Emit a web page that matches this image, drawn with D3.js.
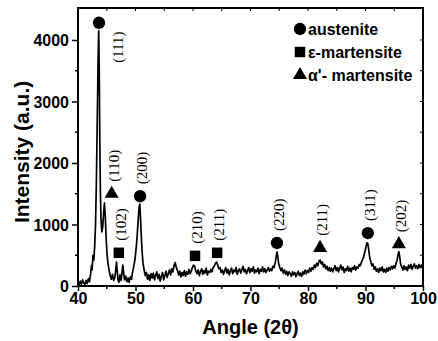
<!DOCTYPE html>
<html>
<head>
<meta charset="utf-8">
<script src="https://cdn.jsdelivr.net/npm/d3@7"></script>
<style>
  body { margin: 0; background: #fff; }
  svg text { font-family: "Liberation Sans", Arial, sans-serif; }
  .tick text { font-weight: bold; font-size: 16px; }
  .hkl { font-family: "Liberation Serif", "Times New Roman", serif !important; font-size: 15px; }
</style>
</head>
<body>
<script>
// XRD scan: [angle 2theta, intensity]
const pattern = [
  [40.0,60],[40.2,10],[40.4,80],[40.6,30],[40.8,100],[41.0,50],[41.2,20],[41.4,90],[41.6,40],[41.8,120],
  [42.0,70],[42.2,200],[42.35,330],[42.45,260],[42.6,500],[42.75,420],[42.9,640],[43.05,1000],[43.2,1700],
  [43.35,2700],[43.5,3700],[43.6,4150],[43.7,3500],[43.8,2300],[43.9,1500],[44.0,1080],[44.15,880],[44.3,960],
  [44.45,1180],[44.6,1350],[44.75,1120],[44.9,760],[45.05,520],[45.2,380],[45.4,260],[45.6,170],[45.8,110],
  [46.0,190],[46.2,90],[46.4,140],[46.55,250],[46.7,390],[46.8,260],[46.95,110],[47.1,60],[47.3,180],[47.5,90],
  [47.65,220],[47.8,340],[47.95,200],[48.1,100],[48.3,160],[48.5,70],[48.7,130],[48.9,60],[49.1,150],[49.3,110],
  [49.5,230],[49.7,320],[49.9,430],[50.1,600],[50.3,830],[50.5,1120],[50.65,1300],[50.75,1330],[50.85,1150],
  [51.0,820],[51.15,560],[51.3,380],[51.5,260],[51.7,170],[51.9,220],[52.1,110],[52.3,180],[52.5,90],[52.7,200],
  [52.9,130],[53.1,210],[53.3,100],[53.5,170],[53.7,230],[53.9,120],[54.1,190],[54.3,80],[54.5,160],[54.7,220],
  [54.9,100],[55.1,170],[55.3,240],[55.5,140],[55.7,200],[55.9,260],[56.1,180],[56.3,280],[56.5,230],[56.7,330],
  [56.9,380],[57.1,300],[57.3,250],[57.5,180],[57.7,240],[57.9,150],[58.1,220],[58.3,170],[58.5,250],[58.7,160],
  [58.9,230],[59.1,190],[59.3,270],[59.5,200],[59.7,240],[59.9,300],[60.1,340],[60.3,320],[60.5,240],[60.7,200],
  [60.9,260],[61.1,170],[61.3,230],[61.5,280],[61.7,190],[61.9,250],[62.1,210],[62.3,290],[62.5,180],[62.7,240],
  [62.9,220],[63.1,270],[63.3,230],[63.5,300],[63.7,320],[63.9,370],[64.1,390],[64.3,340],[64.5,280],[64.7,300],
  [64.9,220],[65.1,260],[65.3,190],[65.5,250],[65.7,300],[65.9,210],[66.1,270],[66.3,180],[66.5,240],[66.7,290],
  [66.9,200],[67.1,260],[67.3,230],[67.5,300],[67.7,190],[67.9,250],[68.1,280],[68.3,210],[68.5,260],[68.7,320],
  [68.9,230],[69.1,270],[69.3,200],[69.5,250],[69.7,300],[69.9,220],[70.1,280],[70.3,240],[70.5,310],[70.7,210],
  [70.9,260],[71.1,230],[71.3,290],[71.5,200],[71.7,270],[71.9,240],[72.1,310],[72.3,230],[72.5,280],[72.7,220],
  [72.9,260],[73.1,300],[73.3,240],[73.5,280],[73.7,250],[73.9,320],[74.1,300],[74.3,380],[74.45,470],[74.6,550],
  [74.75,480],[74.9,360],[75.1,300],[75.3,250],[75.5,290],[75.7,210],[75.9,260],[76.1,190],[76.3,240],[76.5,170],
  [76.7,230],[76.9,200],[77.1,160],[77.3,230],[77.5,180],[77.7,220],[77.9,150],[78.1,200],[78.3,240],[78.5,170],
  [78.7,210],[78.9,160],[79.1,230],[79.3,190],[79.5,260],[79.7,200],[79.9,250],[80.1,220],[80.3,290],[80.5,240],
  [80.7,300],[80.9,270],[81.1,340],[81.3,300],[81.5,370],[81.7,330],[81.9,400],[82.1,420],[82.3,360],[82.5,390],
  [82.7,310],[82.9,350],[83.1,280],[83.3,320],[83.5,250],[83.7,300],[83.9,240],[84.1,290],[84.3,230],[84.5,280],
  [84.7,330],[84.9,250],[85.1,300],[85.3,230],[85.5,290],[85.7,340],[85.9,260],[86.1,310],[86.3,220],[86.5,280],
  [86.7,250],[86.9,320],[87.1,240],[87.3,290],[87.5,230],[87.7,300],[87.9,270],[88.1,330],[88.3,260],[88.5,310],
  [88.7,290],[88.9,350],[89.1,330],[89.3,390],[89.5,430],[89.7,480],[89.9,560],[90.1,640],[90.25,700],[90.4,690],
  [90.55,600],[90.7,480],[90.9,400],[91.1,330],[91.3,360],[91.5,270],[91.7,310],[91.9,240],[92.1,280],[92.3,220],
  [92.5,290],[92.7,250],[92.9,310],[93.1,230],[93.3,270],[93.5,220],[93.7,290],[93.9,240],[94.1,300],[94.3,260],
  [94.5,320],[94.7,280],[94.9,330],[95.1,290],[95.3,360],[95.5,420],[95.65,500],[95.8,560],[95.95,480],[96.1,360],
  [96.3,310],[96.5,260],[96.7,330],[96.9,270],[97.1,310],[97.3,250],[97.5,340],[97.7,290],[97.9,350],[98.1,270],
  [98.3,320],[98.5,360],[98.7,290],[98.9,330],[99.1,280],[99.3,350],[99.5,300],[99.7,340],[99.9,290],[100.0,310]
];

// peak markers (where the symbol sits) and their indices
const peakAngles  = [43.65, 45.85, 47.1, 50.8, 60.35, 64.2, 74.6, 82.1, 90.4, 95.8];
const peakHeights = [4280, 1500, 540, 1460, 490, 540, 700, 620, 860, 680];
const peakPhases  = ["austenite", "alpha", "eps", "austenite", "eps", "eps", "austenite", "alpha", "austenite", "alpha"];
const peakLabels  = ["(111)", "(110)", "(102)", "(200)", "(210)", "(211)", "(220)", "(211)", "(311)", "(202)"];

const legendPhases = ["austenite", "eps", "alpha"];
const legendNames  = ["austenite", "ε-martensite", "α'- martensite"];

const xTicks = [40, 50, 60, 70, 80, 90, 100];
const yTicks = [0, 1000, 2000, 3000, 4000];

const w = 438, h = 341;
const margin = {top: 8, right: 15, bottom: 55, left: 78};

const svg = d3.select("body").append("svg")
  .attr("width", w)
  .attr("height", h);

const x = d3.scaleLinear().domain([40, 100]).range([margin.left, w - margin.right]);
const y = d3.scaleLinear().domain([0, 4520]).range([h - margin.bottom, margin.top]);

const symbols = {austenite: d3.symbolCircle, eps: d3.symbolSquare, alpha: d3.symbolTriangle};
const symSize = {austenite: 120, eps: 110, alpha: 85};

// minor ticks (every 5 deg, every 500 counts)
const xMinor = d3.range(45, 100, 10);
const yMinor = d3.range(500, 4500, 1000);

// bottom axis
const xAxis = svg.append("g")
  .attr("transform", "translate(0," + y(0) + ")")
  .call(d3.axisBottom(x).tickValues(xTicks).tickSize(5).tickPadding(2).tickFormat(d3.format("d")));
xAxis.select(".domain").remove();
xAxis.selectAll("line").attr("stroke-width", 1.5);

// left axis
const yAxis = svg.append("g")
  .attr("transform", "translate(" + x(40) + ",0)")
  .call(d3.axisLeft(y).tickValues(yTicks).tickSize(6).tickPadding(3).tickFormat(d3.format("d")));
yAxis.select(".domain").remove();
yAxis.selectAll("line").attr("stroke-width", 1.5);
yAxis.selectAll("text").attr("dy", "0.36em");

// minor ticks outward on left/bottom
svg.selectAll(".xminor").data(xMinor).enter().append("line")
  .attr("x1", d => x(d)).attr("x2", d => x(d))
  .attr("y1", y(0)).attr("y2", y(0) + 3)
  .attr("stroke", "#000").attr("stroke-width", 1.5);
svg.selectAll(".yminor").data(yMinor).enter().append("line")
  .attr("x1", x(40) - 3).attr("x2", x(40))
  .attr("y1", d => y(d)).attr("y2", d => y(d))
  .attr("stroke", "#000").attr("stroke-width", 1.5);

// top and right ticks point inward
const topTicks = xTicks.concat(xMinor);
svg.selectAll(".xtop").data(topTicks).enter().append("line")
  .attr("x1", d => x(d)).attr("x2", d => x(d))
  .attr("y1", margin.top).attr("y2", margin.top + 3)
  .attr("stroke", "#000").attr("stroke-width", 1);
const rightTicks = yTicks.concat(yMinor);
svg.selectAll(".yright").data(rightTicks).enter().append("line")
  .attr("x1", x(100) - 3).attr("x2", x(100))
  .attr("y1", d => y(d)).attr("y2", d => y(d))
  .attr("stroke", "#000").attr("stroke-width", 1);

// pattern
const line = d3.line().x(d => x(d[0])).y(d => y(d[1]));
svg.append("path")
  .datum(pattern)
  .attr("d", line)
  .attr("fill", "none")
  .attr("stroke", "#000")
  .attr("stroke-width", 1.7)
  .attr("stroke-linejoin", "round");

// frame
svg.append("rect")
  .attr("x", x(40)).attr("y", margin.top)
  .attr("width", x(100) - x(40)).attr("height", y(0) - margin.top)
  .attr("fill", "none").attr("stroke", "#000").attr("stroke-width", 2);

// peak symbols
const peaks = peakAngles.map((a, i) => ({a: a, v: peakHeights[i], phase: peakPhases[i], label: peakLabels[i]}));

svg.selectAll(".peak").data(peaks).enter().append("path")
  .attr("transform", d => "translate(" + x(d.a) + "," + y(d.v) + ")")
  .attr("d", d => d3.symbol().type(symbols[d.phase]).size(symSize[d.phase])());

// hkl labels, vertical, above the symbol (the big one sits to its right)
svg.selectAll(".hkl").data(peaks).enter().append("text")
  .attr("class", "hkl")
  .attr("transform", (d, i) => {
    let px = x(d.a) + 2, py = y(d.v) - 12;
    if (i === 0) { px = x(d.a) + 19; py = y(d.v) + 40; }
    return "translate(" + (px + 5) + "," + py + ") rotate(-90)";
  })
  .text(d => d.label);

// legend
const legend = svg.selectAll(".legend").data(legendPhases).enter().append("g")
  .attr("transform", (d, i) => "translate(300," + (29 + i * 23) + ")");
legend.append("path")
  .attr("d", d => d3.symbol().type(symbols[d]).size(symSize[d])());
legend.append("text")
  .attr("x", 8).attr("dy", "0.35em")
  .attr("font-weight", "bold").attr("font-size", "16px")
  .text((d, i) => legendNames[i]);

// axis titles
svg.append("text")
  .attr("x", (x(40) + x(100)) / 2).attr("y", 334)
  .attr("text-anchor", "middle")
  .attr("font-weight", "bold").attr("font-size", "20px")
  .text("Angle (2θ)");

svg.append("text")
  .attr("transform", "translate(29," + y(2180) + ") rotate(-90)")
  .attr("text-anchor", "middle")
  .attr("font-weight", "bold").attr("font-size", "21px")
  .text("Intensity (a.u.)");
</script>
</body>
</html>
